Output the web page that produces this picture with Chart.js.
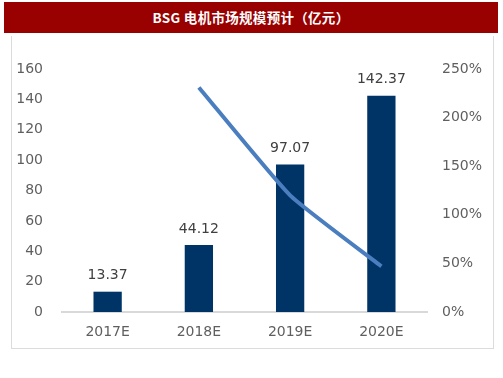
<!DOCTYPE html>
<html>
<head>
<meta charset="utf-8">
<script src="https://cdn.jsdelivr.net/npm/chart.js@4.4.0/dist/chart.umd.min.js"></script>
<style>
  html,body{margin:0;padding:0;background:#fff;}
  #wrap{position:relative;width:503px;height:378px;overflow:hidden;}
  #title{position:absolute;left:4px;top:2px;width:494px;height:31px;background:#990000;color:#fff;
    font:bold 13.5px "Noto Sans CJK SC","DejaVu Serif",serif;line-height:31px;text-align:center;letter-spacing:0.3px;}
  #frame{position:absolute;left:11px;top:36px;width:481px;height:312px;border:1px solid #dcdcdc;border-top:none;}
  #c{position:absolute;left:0;top:0;}
</style>
</head>
<body>
<div id="wrap">
  <div id="title">BSG 电机市场规模预计（亿元）</div>
  <div id="frame"></div>
  <canvas id="c" width="503" height="378"></canvas>
</div>
<script>
const years = ['2017E','2018E','2019E','2020E'];
const marketSize = [13.37, 44.12, 97.07, 142.37];
const growthPct = [null, 231, 120, 47];
const leftTicks = [0,20,40,60,80,100,120,140,160];
const rightTicks = [0,50,100,150,200,250];

// bar value labels (no datalabels plugin offline)
const barLabels = {
  id:'barLabels',
  afterDatasetsDraw(chart){
    const ctx = chart.ctx;
    const meta = chart.getDatasetMeta(1);
    ctx.save();
    ctx.font = '14px "DejaVu Sans", sans-serif';
    ctx.fillStyle = '#404040';
    ctx.textAlign = 'center';
    ctx.textBaseline = 'bottom';
    meta.data.forEach((bar,i)=>{
      ctx.fillText(marketSize[i].toFixed(2), bar.x, bar.y - 9);
    });
    ctx.restore();
  }
};

const tickFont = {family:'"DejaVu Sans", sans-serif', size:14};

new Chart(document.getElementById('c'),{
  data:{
    labels: years,
    datasets:[
      {
        type:'line',
        label:'增速',
        data: growthPct,
        yAxisID:'y2',
        borderColor:'#4a7ebf',
        borderWidth:4,
        pointRadius:0,
        tension:0.15,
        fill:false,
        order:0
      },
      {
        type:'bar',
        label:'市场规模',
        data: marketSize,
        yAxisID:'y',
        backgroundColor:'#003366',
        barPercentage:0.31,
        categoryPercentage:1,
        order:1
      }
    ]
  },
  options:{
    responsive:false,
    animation:false,
    layout:{padding:{top:69,left:0,right:0,bottom:0}},
    plugins:{legend:{display:false},tooltip:{enabled:false}},
    scales:{
      x:{
        grid:{display:false,drawTicks:false},
        border:{display:true,color:'#d9d9d9',width:2},
        ticks:{color:'#5f5f5f',font:tickFont,padding:12},
        afterFit(s){ s.height = 66; }
      },
      y:{
        position:'left',
        min:0,max:160,
        afterBuildTicks(s){ s.ticks = leftTicks.map(v=>({value:v})); },
        grid:{display:false,drawTicks:false},
        border:{display:false},
        ticks:{color:'#5f5f5f',font:tickFont,padding:19},
        afterFit(s){ s.width = 62; }
      },
      y2:{
        position:'right',
        min:0,max:250,
        afterBuildTicks(s){ s.ticks = rightTicks.map(v=>({value:v})); },
        grid:{display:false,drawTicks:false},
        border:{display:false},
        ticks:{color:'#5f5f5f',font:tickFont,padding:15,callback:v=>v+'%'},
        afterFit(s){ s.width = 76; }
      }
    }
  },
  plugins:[barLabels]
});
</script>
</body>
</html>
